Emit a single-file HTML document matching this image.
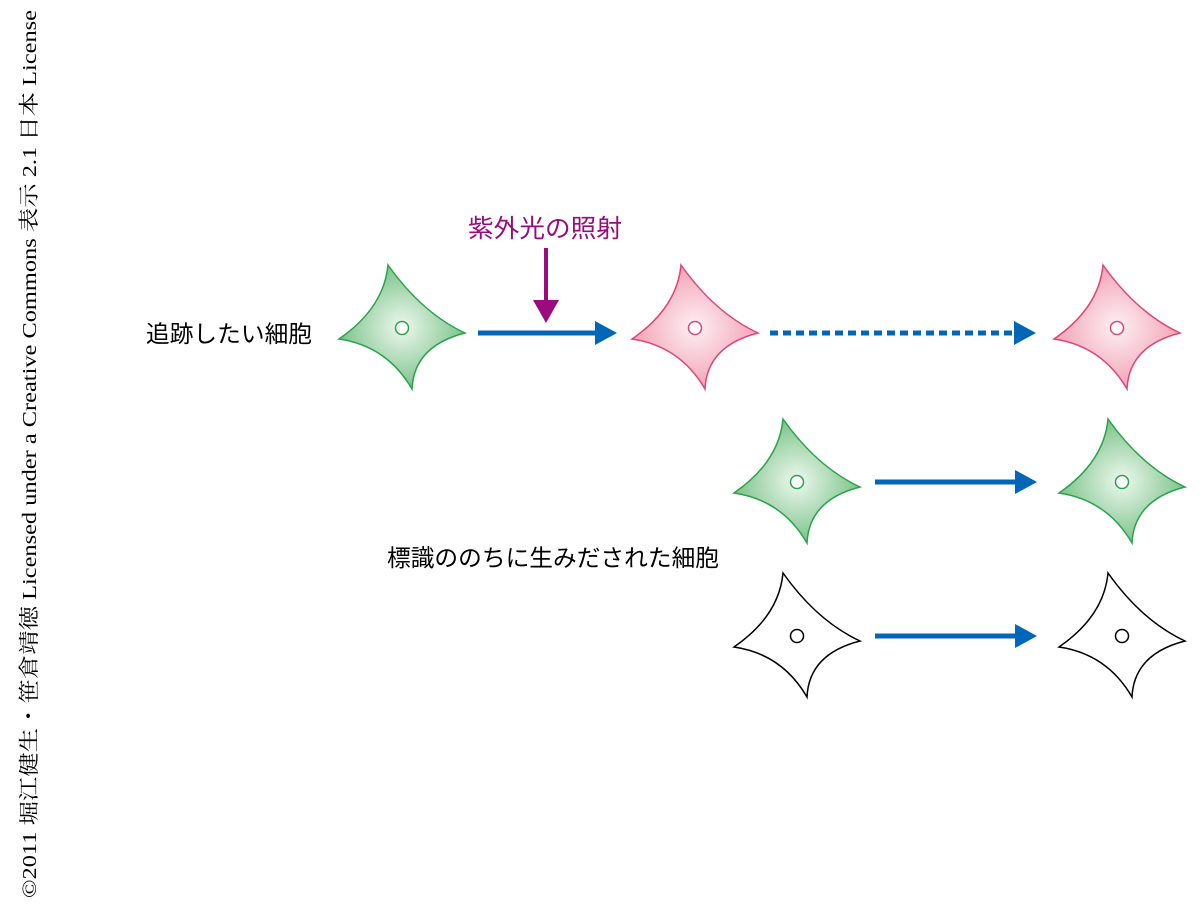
<!DOCTYPE html>
<html><head><meta charset="utf-8"><style>
body{margin:0;width:1200px;height:917px;background:#fff;overflow:hidden}
</style></head><body>
<svg width="1200" height="917" viewBox="0 0 1200 917" xmlns="http://www.w3.org/2000/svg">
<defs>
<radialGradient id="g"><stop offset="0" stop-color="#eef8ef"/><stop offset="1" stop-color="#7cc38a"/></radialGradient>
<radialGradient id="p"><stop offset="0" stop-color="#fdf0f3"/><stop offset="1" stop-color="#f3a3b6"/></radialGradient>
<path id="cell" d="M -14,-63 Q -18,-20 -63,11 Q -15,18 10,61 Q 12,18 63,5 Q 20,-15 -14,-63 Z"/>
</defs>
<g stroke-width="1.5">
<g transform="translate(402,328)"><use href="#cell" fill="url(#g)" stroke="#2aa44a"/><circle r="6.5" fill="#fff" stroke="#2aa44a"/></g>
<g transform="translate(695,328)"><use href="#cell" fill="url(#p)" stroke="#e0457a"/><circle r="6.5" fill="#fff" stroke="#e0457a"/></g>
<g transform="translate(1117,328)"><use href="#cell" fill="url(#p)" stroke="#e0457a"/><circle r="6.5" fill="#fff" stroke="#e0457a"/></g>
<g transform="translate(797,482)"><use href="#cell" fill="url(#g)" stroke="#2aa44a"/><circle r="6.5" fill="#fff" stroke="#2aa44a"/></g>
<g transform="translate(1122,482)"><use href="#cell" fill="url(#g)" stroke="#2aa44a"/><circle r="6.5" fill="#fff" stroke="#2aa44a"/></g>
<g transform="translate(797,636)"><use href="#cell" fill="#fff" stroke="#000"/><circle r="6.5" fill="#fff" stroke="#000"/></g>
<g transform="translate(1122,636)"><use href="#cell" fill="#fff" stroke="#000"/><circle r="6.5" fill="#fff" stroke="#000"/></g>
</g>
<g fill="#0066b8" stroke="#0066b8">
<line x1="478" y1="333" x2="598" y2="333" stroke-width="5"/><polygon points="595,321 617,333 595,345" stroke="none"/>
<line x1="770" y1="333" x2="1016" y2="333" stroke-width="5" stroke-dasharray="8,5"/><polygon points="1014,321 1036,333 1014,345" stroke="none"/>
<line x1="875" y1="482" x2="1018" y2="482" stroke-width="5"/><polygon points="1015,470 1037,482 1015,494" stroke="none"/>
<line x1="875" y1="636" x2="1018" y2="636" stroke-width="5"/><polygon points="1015,624 1037,636 1015,648" stroke="none"/>
</g>
<line x1="546" y1="248" x2="546" y2="302" stroke="#9b0a7e" stroke-width="4"/>
<polygon points="533,300 559,300 546,323" fill="#9b0a7e"/>
<g font-family="'Liberation Sans','Noto Sans CJK JP',sans-serif">
<text x="146" y="342" font-size="23.5" textLength="166" lengthAdjust="spacingAndGlyphs">追跡したい細胞</text>
<text x="468" y="237" font-size="25" fill="#9b0a7e" textLength="154" lengthAdjust="spacingAndGlyphs">紫外光の照射</text>
<text x="387" y="566" font-size="23.5" textLength="332" lengthAdjust="spacingAndGlyphs">標識ののちに生みだされた細胞</text>
</g>
<text transform="translate(36,898) rotate(-90)" font-family="'Liberation Serif','Noto Serif CJK SC',serif" font-size="20.5" textLength="888" lengthAdjust="spacingAndGlyphs">©2011 堀江健生・笹倉靖徳 Licensed under a Creative Commons 表示 2.1 日本 License</text>
</svg>
</body></html>
